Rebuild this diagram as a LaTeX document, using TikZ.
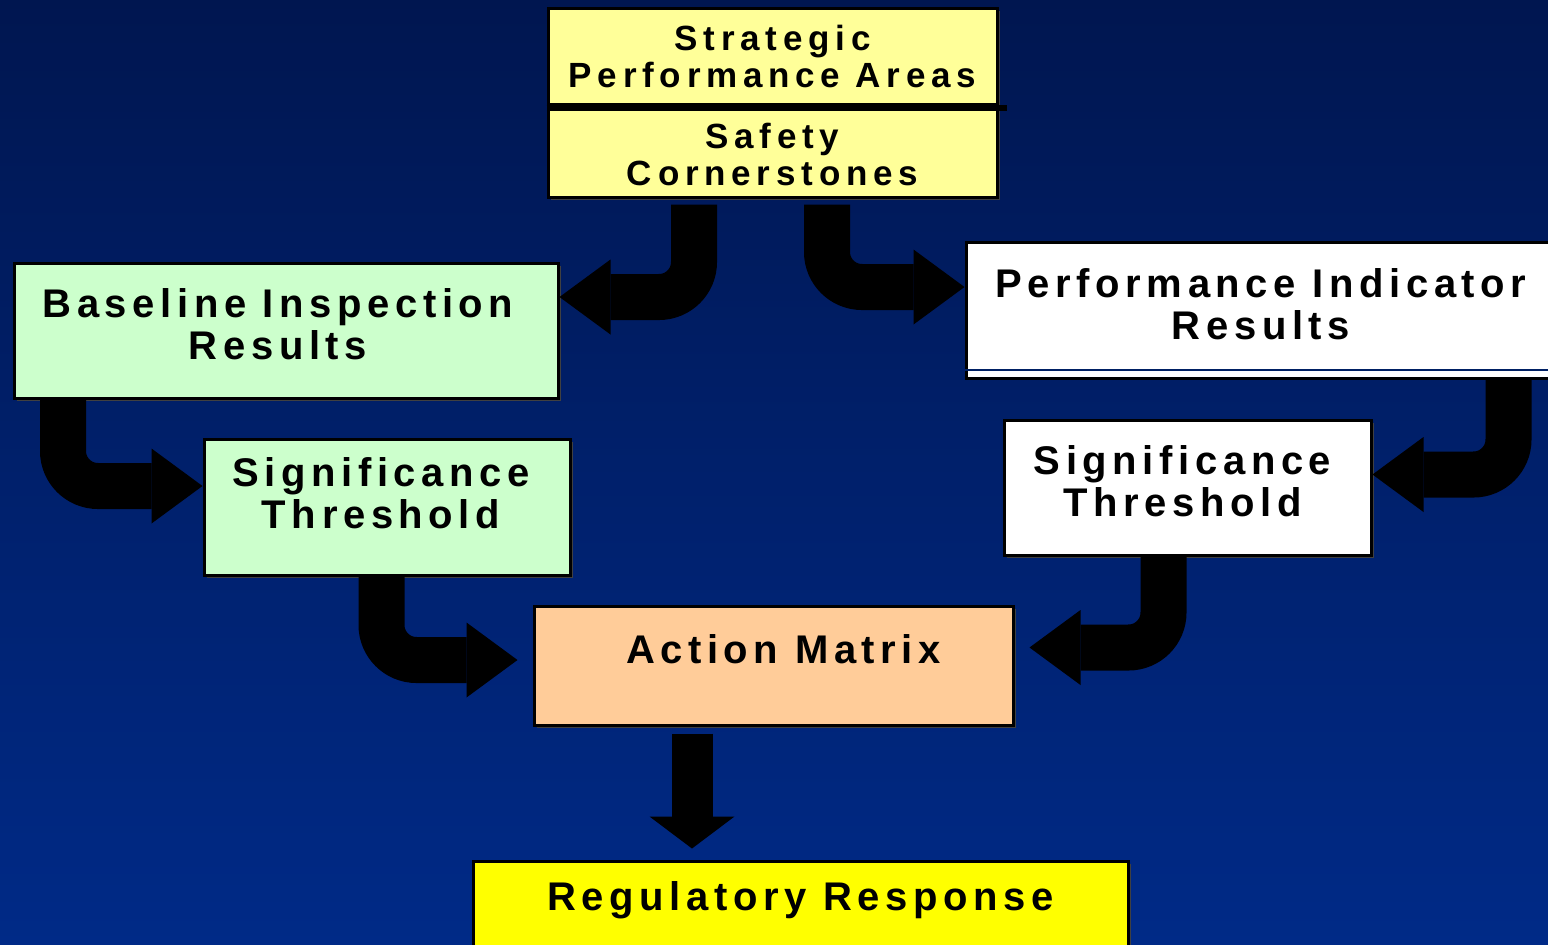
\documentclass[tikz,border=0pt]{standalone}
\usepackage{fontspec}
\newfontfamily\lsfont{Liberation Sans}[LetterSpace=14]
\newfontfamily\lstop{Liberation Sans}[LetterSpace=16.5]
\usetikzlibrary{arrows.meta,shadows}
\definecolor{bgtop}{RGB}{0,22,80}
\definecolor{bgbot}{RGB}{0,42,135}
\definecolor{paleyellow}{RGB}{255,255,153}
\definecolor{palegreen}{RGB}{204,255,204}
\definecolor{peach}{RGB}{255,204,153}
\definecolor{brightyellow}{RGB}{255,255,0}
\definecolor{navyline}{RGB}{0,32,100}
\begin{document}
\begin{tikzpicture}[x=0.5pt,y=-0.5pt,
  plainbox/.style={draw=black, line width=1.5pt, inner sep=0pt, text=black,
     font=\lsfont\bfseries\fontsize{20}{21}\selectfont},
  box/.style={plainbox, drop shadow={shadow xshift=1.5pt, shadow yshift=-1.5pt, fill=black!75, opacity=1}},
  topbox/.style={box, fill=paleyellow, font=\lstop\bfseries\fontsize{17.5}{18.5}\selectfont, minimum width=224.5pt},
  barrow/.style={draw=black, line width=23pt, rounded corners=17.5pt, -{Triangle[length=25.5pt,width=37.5pt,line width=0pt]}},
  sarrow/.style={draw=black, line width=20.5pt, -{Triangle[length=16pt,width=42.5pt,line width=0pt]}}
]
\useasboundingbox (0,0) rectangle (1548,944);
\clip (0,0) rectangle (1548,944);
\fill[top color=bgtop, bottom color=bgbot] (0,0) rectangle (1548,944);

% boxes
\node[topbox, minimum height=49pt] (spa) at (772.5,57)
  {\begin{tabular}{@{}c@{}}\rule{0pt}{18pt}Strategic\\Performance Areas\end{tabular}};
\node[topbox, minimum height=45pt] (sc) at (772.5,151)
  {\begin{tabular}{@{}c@{}}\rule{0pt}{22pt}Safety\\Cornerstones\end{tabular}};
\draw[line width=3pt] (spa.south west) -- ([xshift=4pt]spa.south east);

\node[box, fill=palegreen, minimum width=272pt, minimum height=67.5pt] (bir) at (286,330.5)
  {\begin{tabular}{@{}c@{\hspace{8pt}}}Baseline Inspection\\Results\end{tabular}};
\node[box, fill=palegreen, minimum width=183pt, minimum height=68pt] (stl) at (387,507)
  {\begin{tabular}{@{}c@{\hspace{6pt}}}Significance\\Threshold\\[8pt]\end{tabular}};
\node[plainbox, fill=white, minimum width=295pt, minimum height=68pt] (pir) at (1261,310)
  {\begin{tabular}{@{}c@{}}Performance Indicator\\Results\end{tabular}};
\draw[navyline, line width=1pt] ([yshift=5pt]pir.south west) -- ([yshift=5pt]pir.south east);
\node[box, fill=white, minimum width=183.5pt, minimum height=67.5pt] (str) at (1187.5,487.5)
  {\begin{tabular}{@{}c@{\hspace{5pt}}}Significance\\Threshold\end{tabular}};
\node[box, fill=peach, minimum width=239.5pt, minimum height=59.5pt] (am) at (773.5,665.5)
  {\begin{tabular}{@{\hspace{10pt}}c@{}}Action Matrix\\[10pt]\end{tabular}};
\node[box, fill=brightyellow, minimum width=327.5pt, minimum height=49.5pt] (rr) at (800.5,910.5)
  {\begin{tabular}{@{}c@{}}Regulatory Response\\[8.5pt]\end{tabular}};

% connectors
\draw[barrow, shorten <=3pt] ([xshift=-39.25pt]sc.south) |- ([yshift=16.75pt]bir.east);
\draw[barrow, shorten <=3pt] ([xshift=27.25pt]sc.south) |- ([yshift=11.5pt]pir.west);
\draw[barrow] ([xshift=-111.5pt]bir.south) |- ([yshift=10.5pt]stl.west);
\draw[barrow, shorten >=7.5pt] ([xshift=-2.75pt]stl.south) |- ([yshift=2.75pt]am.west);
\draw[barrow] ([xshift=123.75pt]pir.south) |- ([yshift=6.5pt]str.east);
\draw[barrow, shorten >=7.5pt] ([xshift=-12pt]str.south) |- ([yshift=9pt]am.east);
\draw[sarrow, shorten <=3.5pt, shorten >=5.5pt] ([xshift=-40.75pt]am.south) -- ([xshift=-40.75pt]am.south |- rr.north);
\end{tikzpicture}
\end{document}
